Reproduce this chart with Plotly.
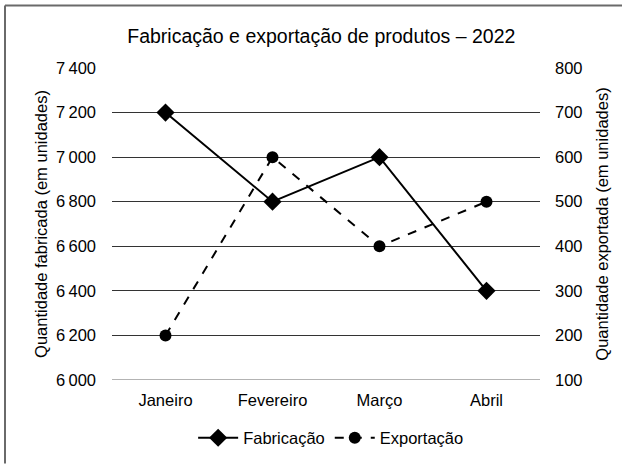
import plotly.graph_objects as go

categories = ["Janeiro", "Fevereiro", "Março", "Abril"]
fabricacao = [7200, 6800, 7000, 6400]
exportacao = [200, 600, 400, 500]
left_ticks = [6000, 6200, 6400, 6600, 6800, 7000, 7200, 7400]
left_ticktext = ["6\u2009000", "6\u2009200", "6\u2009400", "6\u2009600", "6\u2009800", "7\u2009000", "7\u2009200", "7\u2009400"]
right_ticks = [100, 200, 300, 400, 500, 600, 700, 800]

FONT = "Liberation Sans, Arial, sans-serif"
W, H = 630, 466
L, R, T, B = 112, 90, 68, 84
pw, ph = W - L - R, H - T - B

def px_x(p):
    return (p - L) / pw

def px_y(p):
    return (H - B - p) / ph

fig = go.Figure()
fig.add_trace(go.Scatter(
    x=categories, y=fabricacao, name="Fabricação", mode="lines+markers",
    line=dict(color="black", width=2),
    marker=dict(symbol="diamond", size=14, color="black"),
    yaxis="y",
))
fig.add_trace(go.Scatter(
    x=categories, y=exportacao, name="Exportação", mode="lines+markers",
    line=dict(color="black", width=2, dash="dash"),
    marker=dict(symbol="circle", size=12, color="black"),
    yaxis="y2",
))

fig.update_layout(
    width=W, height=H, autosize=False,
    margin=dict(l=L, r=R, t=T, b=B, pad=0),
    paper_bgcolor="white", plot_bgcolor="white",
    font=dict(family=FONT, size=16, color="black"),
    title=dict(text="Fabricação e exportação de produtos – 2022",
               x=0.51, xanchor="center", y=1 - 36 / H, yanchor="middle",
               yref="container", font=dict(size=19.5, family=FONT, color="black")),
    xaxis=dict(range=[-0.5, 3.5], showgrid=False, showline=False, zeroline=False,
               ticks="", tickfont=dict(size=16.5), ticklabelstandoff=8),
    yaxis=dict(range=[6000, 7400], tickvals=left_ticks, ticktext=left_ticktext,
               showgrid=True, gridcolor="#333333", gridwidth=1, zeroline=False,
               showline=False, ticks="", ticklabelstandoff=15,
               tickfont=dict(size=16.5),
               title=dict(text="Quantidade fabricada (em unidades)", standoff=4,
                          font=dict(size=16.5))),
    yaxis2=dict(range=[100, 800], tickvals=right_ticks, overlaying="y", side="right",
                showgrid=False, zeroline=False, showline=False, ticks="",
                ticklabelstandoff=14, tickfont=dict(size=16.5),
                title=dict(text="Quantidade exportada (em unidades)", standoff=14,
                           font=dict(size=16.5))),
    legend=dict(orientation="h", x=0.512, xanchor="center", y=1 - 438 / H,
                yanchor="middle", yref="container", font=dict(size=16.5),
                itemwidth=40, traceorder="normal"),
    showlegend=True,
)

# bottom axis line (lighter)
fig.add_shape(type="line", xref="paper", yref="y", x0=0, x1=1, y0=6000, y1=6000,
              line=dict(color="#9a9a9a", width=1.5))
# frame: top and left border lines
fig.add_shape(type="line", xref="paper", yref="paper",
              x0=px_x(5), x1=px_x(622), y0=px_y(5), y1=px_y(5),
              line=dict(color="#6a6a6a", width=2))
fig.add_shape(type="line", xref="paper", yref="paper",
              x0=px_x(5), x1=px_x(5), y0=px_y(5), y1=px_y(466),
              line=dict(color="#6a6a6a", width=2))

fig.write_html("out.html", config={"displayModeBar": False},
               post_script="document.body.style.margin='0';document.body.style.overflow='hidden';")
